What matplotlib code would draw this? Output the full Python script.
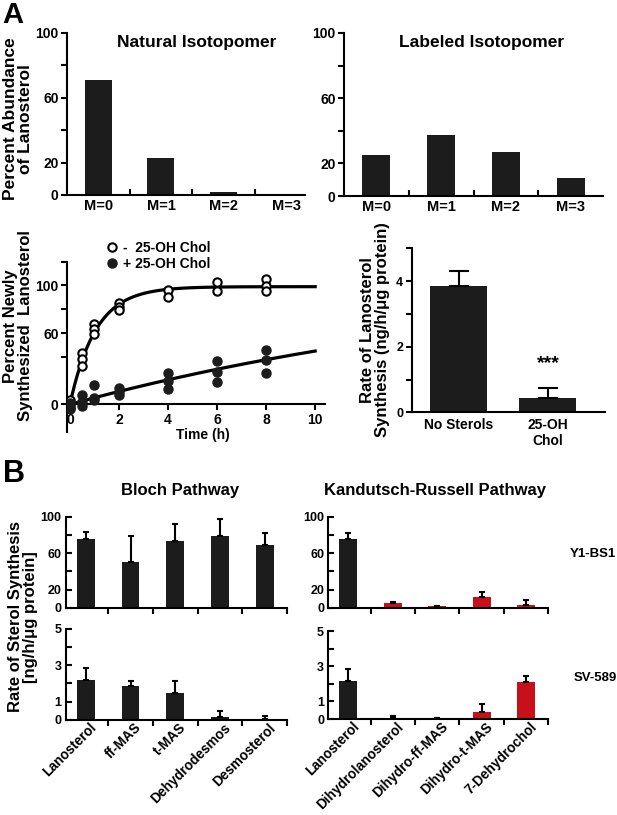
import numpy as np
import matplotlib
matplotlib.use("Agg")
import matplotlib.pyplot as plt
from matplotlib.lines import Line2D

plt.rcParams['font.family'] = ['Liberation Sans', 'DejaVu Sans']
plt.rcParams['font.weight'] = 'bold'
plt.rcParams['axes.linewidth'] = 1.5

######################## data ############################
# panel A, isotopomer distribution
iso_labels = ['M=0', 'M=1', 'M=2', 'M=3']
natural_iso = [71, 22.8, 2, 0]
labeled_iso = [25, 37.4, 27, 11]

# panel A, time course (h, percent)
open_t = [0, 0, 0, 0.5, 0.5, 0.5, 1, 1, 1, 2, 2, 2, 4, 4, 6, 6, 8, 8, 8]
open_y = [4, 0, -3, 43, 38, 32, 67.5, 63.5, 59, 85, 82, 79, 96.5, 90, 103, 95, 105.5, 99.5, 95]
filled_t = [0, 0, 0, 0.5, 0.5, 0.5, 1, 1, 1, 2, 2, 2, 4, 4, 4, 6, 6, 6, 8, 8, 8]
filled_y = [1, -2, -4, 7.5, 2, -1, 16.5, 5, 3.5, 14, 10.5, 7.5, 26, 19.5, 12.5, 36.5, 27.5, 18.5, 46, 37.5, 26]
# exponential fits drawn through the points
open_fit = (99.0, 0.95)     # plateau, rate
filled_fit = (114.0, 0.05)

# panel A, rate of lanosterol synthesis
rate_labels = ['No Sterols', '25-OH\nChol']
rate_vals = [3.84, 0.43]
rate_err = [0.46, 0.30]

# panel B
bloch_labels = ['Lanosterol', 'ff-MAS', 't-MAS', 'Dehydrodesmos', 'Desmosterol']
kr_labels = ['Lanosterol', 'Dihydrolanosterol', 'Dihydro-ff-MAS', 'Dihydro-t-MAS', '7-Dehydrochol']
bloch_y1 = [76, 50.5, 73.5, 79, 69]
bloch_y1_err = [7.5, 28.5, 19, 19, 13.5]
bloch_sv = [2.17, 1.85, 1.48, 0.17, 0.07]
bloch_sv_err = [0.68, 0.26, 0.63, 0.3, 0.17]
kr_y1 = [75.5, 5.5, 1.5, 11.4, 3]
kr_y1_err = [7, 1, 0, 5.5, 5.5]
kr_sv = [2.14, 0.08, 0.05, 0.4, 2.09]
kr_sv_err = [0.68, 0.07, 0.03, 0.46, 0.34]

BLACK = '#1c1c1c'
RED = '#c8101a'

W, H = 617, 815
fig = plt.figure(figsize=(W / 100, H / 100), dpi=100)


def add_ax(left, top, right, bottom):
    # place axes using pixel positions of the reference
    return fig.add_axes([left / W, 1 - bottom / H, (right - left) / W, (bottom - top) / H])


def clean(ax):
    ax.spines['top'].set_visible(False)
    ax.spines['right'].set_visible(False)


def upper_err(ax, x, y, e, cap=3):
    ax.errorbar(x, y, yerr=[np.zeros(len(e)), e], fmt='none', ecolor='black',
                elinewidth=1.5, capsize=cap, capthick=1.5, zorder=3)


######################## A: isotopomers ############################
for vals, box, title, tx in [(natural_iso, (67, 33, 305, 195), 'Natural Isotopomer', 197),
                             (labeled_iso, (344, 33, 603, 196), 'Labeled Isotopomer', 482)]:
    ax = add_ax(*box)
    clean(ax)
    x = np.arange(len(vals))
    ax.bar(x, vals, width=0.43, color=BLACK)
    ax.set_ylim(0, 100)
    ax.set_xlim(-0.5, 3.3 if tx < 300 else 3.5)
    ax.set_yticks([0, 20, 40, 60, 80, 100])
    ax.set_yticklabels(['0', '20', '', '60', '', '100'])
    ax.set_xticks([0.5, 1.5, 2.5])
    ax.set_xticklabels([])
    ax.set_xticks(x, minor=True)
    ax.set_xticklabels(iso_labels, minor=True)
    ax.tick_params(axis='x', which='major', direction='in', length=4, width=1.5)
    ax.tick_params(axis='x', which='minor', length=0, pad=3, labelsize=10.5)
    ax.tick_params(axis='y', direction='out', length=4, width=1.5, labelsize=10, pad=2)
    fig.text(tx / W, 1 - 43 / H, title, ha='center', va='center', fontsize=12.5, fontweight='bold')

fig.text(18 / W, 1 - 119 / H, 'Percent Abundance\nof Lanosterol', rotation=90,
         ha='center', va='center', fontsize=12.5, fontweight='bold', linespacing=1.0)
fig.text(2 / W, 1 - 1 / H, 'A', ha='left', va='top', fontsize=21, fontweight='bold')

######################## A: time course ############################
ax = add_ax(67, 261.7, 325, 431.7)
clean(ax)
tt = np.linspace(0, 10, 300)
ax.plot(tt, open_fit[0] * (1 - np.exp(-open_fit[1] * tt)), color='black', lw=2.3, zorder=2)
ax.plot(tt, filled_fit[0] * (1 - np.exp(-filled_fit[1] * tt)), color='black', lw=2.3, zorder=2)
ax.plot(open_t, open_y, 'o', ms=6, mfc='white', mec='black', mew=1.5, zorder=3)
ax.plot(filled_t, filled_y, 'o', ms=6.5, mfc=BLACK, mec=BLACK, zorder=3)
ax.set_xlim(-0.12, 10.4)
ax.set_ylim(-23, 120)
ax.spines['bottom'].set_position(('data', 0))
ax.set_xticks([0, 2, 4, 6, 8, 10])
ax.set_yticks([0, 40, 60, 80, 100, 120])
ax.set_yticklabels(['0', '', '60', '', '100', ''])
ax.tick_params(axis='x', direction='out', length=4, width=1.5, labelsize=10, pad=2)
ax.tick_params(axis='y', direction='out', length=4, width=1.5, labelsize=10, pad=2)
fig.text(203 / W, 1 - 435 / H, 'Time (h)', ha='center', va='center', fontsize=10, fontweight='bold')
handles = [Line2D([], [], ls='none', marker='o', ms=6, mfc='white', mec='black', mew=1.5),
           Line2D([], [], ls='none', marker='o', ms=6.5, mfc=BLACK, mec=BLACK)]
ax.legend(handles, ['-  25-OH Chol', '+ 25-OH Chol'], loc='upper left',
          bbox_to_anchor=(106 / W, 1 - 241 / H), bbox_transform=fig.transFigure,
          frameon=False, handlelength=0.8, handletextpad=0.4, labelspacing=0.15,
          borderpad=0, borderaxespad=0, prop={'size': 10, 'weight': 'bold'})
fig.text(18 / W, 1 - 326 / H, 'Percent Newly\nSynthesized  Lanosterol', rotation=90,
         ha='center', va='center', fontsize=12, fontweight='bold', linespacing=1.0)

######################## A: rate of synthesis ############################
ax = add_ax(411.7, 248.3, 605, 412.3)
clean(ax)
ax.bar([0, 1], rate_vals, width=0.64, color=BLACK)
upper_err(ax, [0, 1], rate_vals, rate_err, cap=7)
ax.set_xlim(-0.53, 1.64)
ax.set_ylim(0, 5)
ax.set_yticks([0, 1, 2, 3, 4, 5])
ax.set_yticklabels(['0', '', '2', '', '4', ''])
ax.set_xticks([0, 1])
ax.set_xticklabels(rate_labels)
ax.tick_params(axis='x', length=0, pad=4, labelsize=10)
ax.tick_params(axis='y', direction='out', length=4, width=1.5, labelsize=9, pad=2)
ax.text(1, 1.5, '***', ha='center', va='center', fontsize=14, fontweight='bold')
fig.text(375 / W, 1 - 330 / H, 'Rate of Lanosterol\nSynthesis (ng/h/\u03bcg protein)', rotation=90,
         ha='center', va='center', fontsize=12, fontweight='bold', linespacing=1.0)

######################## B: pathways ############################
panels = [
    (bloch_y1, bloch_y1_err, (65.7, 516.7, 287, 607.7), 100, None, [BLACK] * 5),
    (bloch_sv, bloch_sv_err, (65.7, 628.5, 287, 720), 5, bloch_labels, [BLACK] * 5),
    (kr_y1, kr_y1_err, (328.3, 516.7, 548.3, 607.7), 100, None, [BLACK] + [RED] * 4),
    (kr_sv, kr_sv_err, (328.3, 631, 548.3, 719), 5, kr_labels, [BLACK] + [RED] * 4),
]
for vals, errs, box, top, labels, cols in panels:
    ax = add_ax(*box)
    clean(ax)
    x = np.arange(len(vals))
    ax.bar(x, vals, width=0.4, color=cols)
    upper_err(ax, x, vals, errs, cap=2.5)
    ax.set_xlim(-0.45, 4.5)
    ax.set_ylim(0, top)
    if top == 100:
        ax.set_yticks([0, 20, 40, 60, 80, 100])
        ax.set_yticklabels(['0', '20', '', '60', '', '100'])
    else:
        ax.set_yticks([0, 1, 2, 3, 4, 5])
        ax.set_yticklabels(['0', '1', '', '3', '', '5'])
    ax.set_xticks([0.5, 1.5, 2.5, 3.5, 4.5])
    ax.set_xticklabels([])
    ax.tick_params(axis='x', which='major', direction='out', length=4, width=1.5)
    ax.tick_params(axis='y', direction='in', length=4, width=1.5, labelsize=9, pad=3)
    if labels:
        ax.set_xticks(x + 0.2, minor=True)
        ax.set_xticklabels(labels, minor=True, rotation=45, ha='right', va='center',
                           rotation_mode='anchor')
        ax.tick_params(axis='x', which='minor', length=0, pad=4, labelsize=9.8)

fig.text(180 / W, 1 - 490 / H, 'Bloch Pathway', ha='center', va='center', fontsize=12, fontweight='bold')
fig.text(435 / W, 1 - 490 / H, 'Kandutsch-Russell Pathway', ha='center', va='center',
         fontsize=12, fontweight='bold')
fig.text(593 / W, 1 - 554 / H, 'Y1-BS1', ha='center', va='center', fontsize=9.5, fontweight='bold')
fig.text(595 / W, 1 - 678 / H, 'SV-589', ha='center', va='center', fontsize=9.5, fontweight='bold')
fig.text(23 / W, 1 - 617 / H, 'Rate of Sterol Synthesis\n[ng/h/\u03bcg protein]', rotation=90,
         ha='center', va='center', fontsize=12, fontweight='bold', linespacing=1.0)
fig.text(3 / W, 1 - 474 / H, 'B', ha='left', va='center', fontsize=22, fontweight='bold')

fig.savefig('out.png', dpi=100, facecolor='white')
